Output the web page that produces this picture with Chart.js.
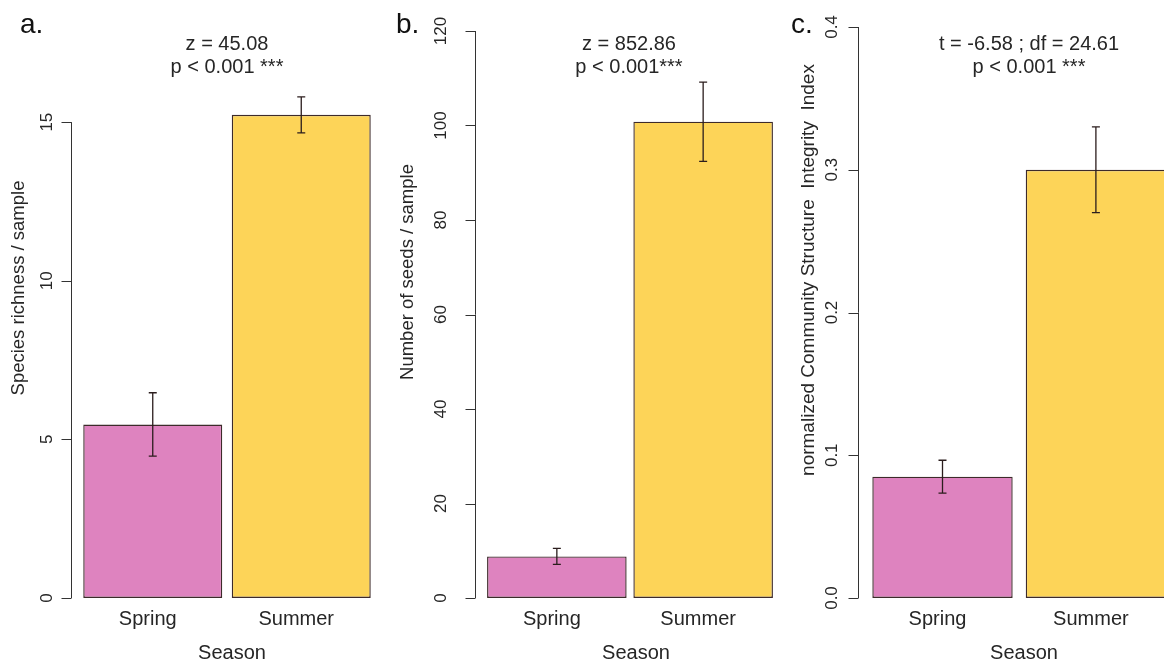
<!DOCTYPE html>
<html>
<head>
<meta charset="utf-8">
<script src="https://cdn.jsdelivr.net/npm/chart.js@4"></script>
<style>
  body { margin: 0; background: #fff; overflow: hidden; }
  #wrap { position: relative; width: 1164px; height: 663px; overflow: hidden; background: #fff; }
  #wrap canvas { position: absolute; top: 0; }
</style>
</head>
<body>
<div id="wrap">
  <canvas id="panelA" width="385" height="663" style="left:0px"></canvas>
  <canvas id="panelB" width="395" height="663" style="left:385px"></canvas>
  <canvas id="panelC" width="400" height="663" style="left:775px"></canvas>
</div>
<script>
// data (mean +/- error)
const seasons = ['Spring', 'Summer'];

const richnessMean = [5.47, 15.23];
const richnessErr = [1.0, 0.57];
const richnessTicks = [0, 5, 10, 15];
const richnessTickLabels = ['0', '5', '10', '15'];

const seedsMean = [8.8, 100.8];
const seedsErr = [1.7, 8.4];
const seedsTicks = [0, 20, 40, 60, 80, 100, 120];
const seedsTickLabels = ['0', '20', '40', '60', '80', '100', '120'];

const csiiMean = [0.085, 0.300];
const csiiErr = [0.0115, 0.030];
const csiiTicks = [0, 0.1, 0.2, 0.3, 0.4];
const csiiTickLabels = ['0.0', '0.1', '0.2', '0.3', '0.4'];

const statsA = ['z = 45.08', 'p < 0.001 ***'];
const statsB = ['z = 852.86', 'p < 0.001***'];
const statsC = ['t = -6.58 ; df = 24.61', 'p < 0.001 ***'];

const barColors = ['#de83bf', '#fdd458'];
const FONT = '"Liberation Sans", Arial, sans-serif';
const TXT = '#262626';

function rStylePlugin(p) {
    return {
        id: 'rStyle' + p.letter,
        afterDraw(chart) {
            const ctx = chart.ctx;
            const area = chart.chartArea;
            const x = chart.scales.x;
            const y = chart.scales.y;
            ctx.save();

            // error bars
            ctx.strokeStyle = '#2b1d1d';
            ctx.lineWidth = 1.3;
            p.means.forEach((m, i) => {
                const cx = x.getPixelForValue(i);
                const top = y.getPixelForValue(m + p.errs[i]);
                const bot = y.getPixelForValue(m - p.errs[i]);
                ctx.beginPath();
                ctx.moveTo(cx, top); ctx.lineTo(cx, bot);
                ctx.moveTo(cx - 4, top); ctx.lineTo(cx + 4, top);
                ctx.moveTo(cx - 4, bot); ctx.lineTo(cx + 4, bot);
                ctx.stroke();
            });

            // y axis, R style (line only from first to last tick)
            const ax = Math.round(area.left - p.axisGap) + 0.5;
            ctx.strokeStyle = '#333';
            ctx.lineWidth = 1;
            ctx.beginPath();
            ctx.moveTo(ax, y.getPixelForValue(p.ticks[0]));
            ctx.lineTo(ax, y.getPixelForValue(p.ticks[p.ticks.length - 1]));
            p.ticks.forEach(t => {
                const py = Math.round(y.getPixelForValue(t)) + 0.5;
                ctx.moveTo(ax, py); ctx.lineTo(ax - 10, py);
            });
            ctx.stroke();

            // tick labels, parallel to axis
            ctx.fillStyle = TXT;
            ctx.font = '17px ' + FONT;
            ctx.textAlign = 'center';
            ctx.textBaseline = 'middle';
            p.ticks.forEach((t, i) => {
                ctx.save();
                ctx.translate(ax - p.labelOff, y.getPixelForValue(t));
                ctx.rotate(-Math.PI / 2);
                ctx.fillText(p.tickLabels[i], 0, 0);
                ctx.restore();
            });

            // y title
            ctx.save();
            ctx.font = p.yTitleSize + 'px ' + FONT;
            ctx.translate(p.yTitleX, p.yTitleY);
            ctx.rotate(-Math.PI / 2);
            ctx.fillText(p.yTitle, 0, 0);
            ctx.restore();

            // category labels + x title
            ctx.font = '20px ' + FONT;
            ctx.textBaseline = 'alphabetic';
            seasons.forEach((s, i) => {
                ctx.fillText(s, x.getPixelForValue(i) - 5, 625);
            });
            ctx.fillText('Season', p.seasonX, 659);

            // test statistics
            p.stats.forEach((line, i) => {
                ctx.fillText(line, p.statsX, 50 + i * 23);
            });

            // panel letter
            ctx.font = '28px ' + FONT;
            ctx.textAlign = 'left';
            ctx.fillStyle = '#111';
            ctx.fillText(p.letter + '.', p.letterX, 33);

            ctx.restore();
        }
    };
}

function makePanel(canvasId, p) {
    const ctx = document.getElementById(canvasId).getContext('2d');
    new Chart(ctx, {
        type: 'bar',
        data: {
            labels: seasons,
            datasets: [{
                data: p.means,
                backgroundColor: barColors,
                borderColor: '#3d2b2b',
                borderWidth: 1.4,
                borderSkipped: false,
                barPercentage: p.barPct,
                categoryPercentage: 1
            }]
        },
        options: {
            responsive: false,
            animation: false,
            layout: { padding: { left: p.padL, right: p.padR, top: p.padT, bottom: 65 } },
            plugins: { legend: { display: false }, tooltip: { enabled: false } },
            scales: {
                x: { display: false },
                y: { display: false, min: 0, max: p.yMax }
            }
        },
        plugins: [rStylePlugin(p)]
    });
}

makePanel('panelA', {
    letter: 'a', means: richnessMean, errs: richnessErr,
    ticks: richnessTicks, tickLabels: richnessTickLabels, yMax: 18,
    padL: 78.5, padR: 9.5, padT: 27, barPct: 0.936,
    axisGap: 8, labelOff: 24,
    yTitle: 'Species richness / sample', yTitleSize: 18.5, yTitleX: 19, yTitleY: 288,
    seasonX: 232, statsX: 227, stats: statsA, letterX: 20
});

makePanel('panelB', {
    letter: 'b', means: seedsMean, errs: seedsErr,
    ticks: seedsTicks, tickLabels: seedsTickLabels, yMax: 120,
    padL: 98.7, padR: 3.7, padT: 31, barPct: 0.954,
    axisGap: 8.7, labelOff: 34,
    yTitle: 'Number of seeds / sample', yTitleSize: 18.5, yTitleX: 408 - 385, yTitleY: 272,
    seasonX: 636 - 385, statsX: 629 - 385, stats: statsB, letterX: 396 - 385
});

makePanel('panelC', {
    letter: 'c', means: csiiMean, errs: csiiErr,
    ticks: csiiTicks, tickLabels: csiiTickLabels, yMax: 0.4,
    padL: 90.8, padR: 2.4, padT: 27, barPct: 0.915,
    axisGap: 7.5, labelOff: 26,
    yTitle: 'normalized Community Structure  Integrity  Index', yTitleSize: 19, yTitleX: 809 - 775, yTitleY: 270,
    seasonX: 1024 - 775, statsX: 1029 - 775, stats: statsC, letterX: 791 - 775
});
</script>
</body>
</html>
